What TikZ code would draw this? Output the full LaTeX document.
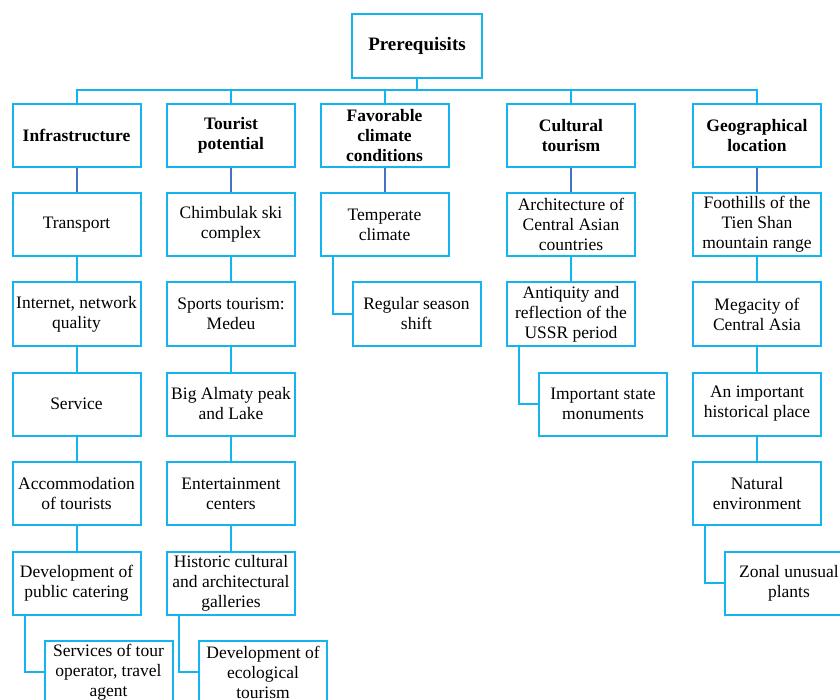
\documentclass[tikz,border=0pt]{standalone}
\usepackage{fontspec}
\setmainfont{Liberation Serif}
\definecolor{boxc}{RGB}{20,180,240}
\definecolor{dkc}{RGB}{68,114,196}
\begin{document}
\begin{tikzpicture}[x=1pt,y=-1pt,
 bx/.style={draw=boxc, line width=2pt, minimum width=128pt, minimum height=63pt, inner sep=0pt, align=center, font=\fontsize{17.5}{20}\selectfont, fill=white},
 hd/.style={bx, font=\fontsize{17.5}{20}\selectfont\bfseries},
 ln/.style={draw=boxc, line width=2pt},
 dk/.style={draw=dkc, line width=2pt}]
\useasboundingbox (0,0) rectangle (840,700);
\clip (0,0) rectangle (840,700);
\fill[white] (0,0) rectangle (840,700);
% top
\node[hd, minimum width=130pt, minimum height=64pt, font=\fontsize{19}{22}\selectfont\bfseries] (pre) at (417,46) {Prerequisits};
\node[hd] (inf) at (76.5,135.5) {Infrastructure};
\node[hd] (tp) at (231,135.5) {Tourist\\potential};
\node[hd] (fc) at (384.5,135.5) {Favorable\\climate\\conditions};
\node[hd] (ct) at (571,135.5) {Cultural\\tourism};
\node[hd] (gl) at (757,135.5) {Geographical\\location};
% column 1
\node[bx] (a1) at (76.5,224.5) {Transport};
\node[bx] (a2) at (76.5,314) {Internet, network\\quality};
\node[bx] (a3) at (76.5,404) {Service};
\node[bx] (a4) at (76.5,493.5) {Accommodation\\of tourists};
\node[bx] (a5) at (76.5,583) {Development of\\public catering};
\node[bx] (a6) at (108.5,672) {Services of tour\\operator, travel\\agent};
% column 2
\node[bx] (b1) at (231,224.5) {Chimbulak ski\\complex};
\node[bx] (b2) at (231,314) {Sports tourism:\\Medeu};
\node[bx] (b3) at (231,404) {Big Almaty peak\\and Lake};
\node[bx] (b4) at (231,493.5) {Entertainment\\centers};
\node[bx] (b5) at (231,583) {Historic cultural\\and architectural\\galleries};
\node[bx] (b6) at (263,672) {Development of\\ecological\\tourism};
% column 3
\node[bx] (c1) at (384.5,224.5) {Temperate\\climate};
\node[bx] (c2) at (416.5,314) {Regular season\\shift};
% column 4
\node[bx] (d1) at (571,224.5) {Architecture of\\Central Asian\\countries};
\node[bx] (d2) at (571,314) {Antiquity and\\reflection of the\\USSR period};
\node[bx] (d3) at (603,404) {Important state\\monuments};
% column 5
\node[bx] (e1) at (757,224.5) {Foothills of the\\Tien Shan\\mountain range};
\node[bx] (e2) at (757,314) {Megacity of\\Central Asia};
\node[bx] (e3) at (757,404) {An important\\historical place};
\node[bx] (e4) at (757,493.5) {Natural\\environment};
\node[bx] (e5) at (789,583) {Zonal unusual\\plants};
% bus
\coordinate (bus) at (417,90);
\foreach \n in {inf,tp,fc,ct,gl} \draw[ln] (pre.south) -- (bus) -| (\n.north);
% dark connectors
\draw[dk] (inf.south) -- (a1.north);
\draw[dk] (tp.south) -- (b1.north);
\draw[dk] (fc.south) -- (c1.north);
\draw[dk] (ct.south) -- (d1.north);
\draw[dk] (gl.south) -- (e1.north);
% chains
\draw[ln] (a1.south) -- (a2.north);
\draw[ln] (a2.south) -- (a3.north);
\draw[ln] (a3.south) -- (a4.north);
\draw[ln] (a4.south) -- (a5.north);
\draw[ln] (b1.south) -- (b2.north);
\draw[ln] (b2.south) -- (b3.north);
\draw[ln] (b3.south) -- (b4.north);
\draw[ln] (b4.south) -- (b5.north);
\draw[ln] (d1.south) -- (d2.north);
\draw[ln] (e1.south) -- (e2.north);
\draw[ln] (e2.south) -- (e3.north);
\draw[ln] (e3.south) -- (e4.north);
% elbows
\draw[ln] ([xshift=13pt]a5.south west) |- (a6.west);
\draw[ln] ([xshift=13pt]b5.south west) |- (b6.west);
\draw[ln] ([xshift=13pt]c1.south west) |- (c2.west);
\draw[ln] ([xshift=13pt]d2.south west) |- (d3.west);
\draw[ln] ([xshift=13pt]e4.south west) |- (e5.west);
\end{tikzpicture}
\end{document}
